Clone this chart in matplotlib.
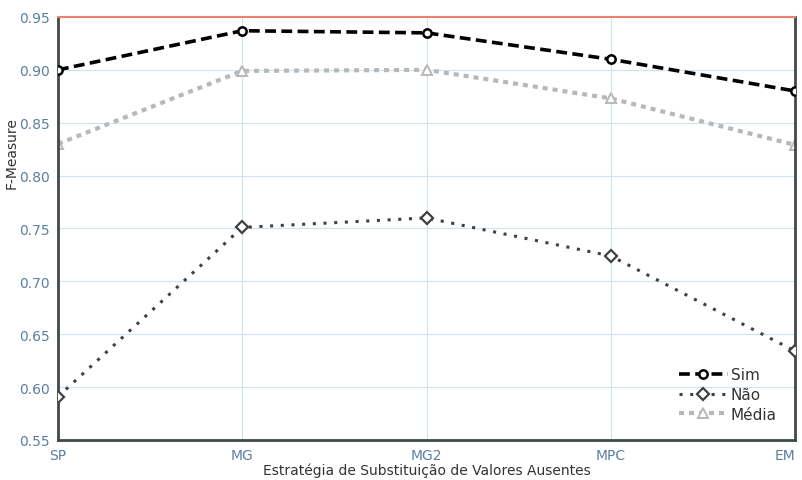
import matplotlib
matplotlib.use('Agg')
from matplotlib import pyplot as plt
import numpy as np

strategies = ['SP', 'MG', 'MG2', 'MPC', 'EM']
sim = [0.900, 0.937, 0.935, 0.910, 0.880]
nao = [0.591, 0.751, 0.760, 0.724, 0.634]
media = [0.830, 0.899, 0.900, 0.873, 0.829]

tick_col = '#5a7fa0'
fig = plt.figure(figsize=(8.03, 4.81), dpi=100)
ax = fig.add_axes([0.0722, 0.0832, 0.918, 0.8794])

x = np.arange(len(strategies))
ax.plot(x, sim, color='black', ls=(0, (3, 1.5)), lw=2.6, marker='o', ms=6,
        mfc='white', mec='black', mew=1.8, label='Sim', zorder=4)
ax.plot(x, nao, color='#404040', ls=(0, (1, 2.5)), lw=2.2, marker='D', ms=6,
        mfc='white', mec='#404040', mew=1.6, label='Não', zorder=3)
ax.plot(x, media, color='#b8b8b8', ls=(0, (1.2, 1.2)), lw=3, marker='^', ms=7,
        mfc='white', mec='#b8b8b8', mew=1.4, label='Média', zorder=2)

ax.set_xlim(0, 4)
ax.set_ylim(0.55, 0.95)
ax.set_xticks(x)
ax.set_xticklabels(strategies)
ax.get_xticklabels()[-1].set_horizontalalignment('right')
ax.get_xticklabels()[-1].set_x(x[-1])
ax.set_yticks(np.arange(0.55, 0.951, 0.05))
ax.set_yticklabels(['%.2f' % v for v in np.arange(0.55, 0.951, 0.05)])
ax.grid(True, color='#cfe3ef', lw=0.8)
ax.tick_params(length=0, colors=tick_col, labelsize=10, pad=6)
for s in ['left', 'bottom', 'right']:
    ax.spines[s].set_color('#404848')
    ax.spines[s].set_linewidth(2)
ax.spines['top'].set_color('#e9826a')
ax.spines['top'].set_linewidth(1.5)

ax.set_xlabel('Estratégia de Substituição de Valores Ausentes', fontsize=10,
              color='#333333', labelpad=0)
ax.set_ylabel('F-Measure', fontsize=10, color='#333333')
ax.yaxis.set_label_coords(-0.054, 0.68)

leg = ax.legend(loc='lower right', frameon=False, fontsize=11, handlelength=3.2,
                handletextpad=0.2, labelspacing=0.3, borderaxespad=0.8)
for t in leg.get_texts():
    t.set_color('#333333')

fig.savefig('out.png', dpi=100)
